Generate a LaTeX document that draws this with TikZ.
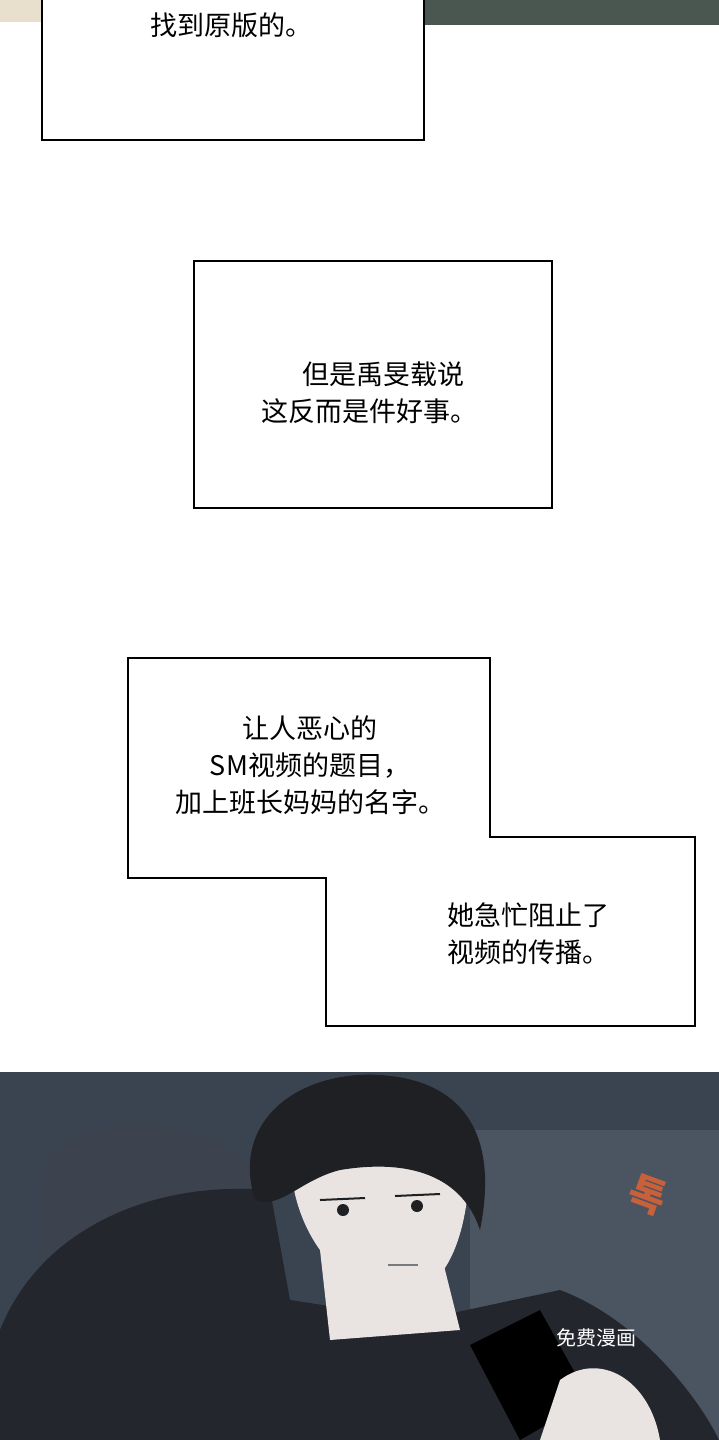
\documentclass[tikz,border=0pt]{standalone}
\usepackage{fontspec}
\newfontfamily\cjk{Noto Sans CJK SC}
\newfontfamily\kor{Noto Sans CJK KR}
\usetikzlibrary{positioning}
\definecolor{panelbg}{HTML}{3A4450}
\definecolor{topdark}{HTML}{4A5650}
\definecolor{topbeige}{HTML}{E8E0CC}
\definecolor{skin}{HTML}{E9E4E2}
\definecolor{hair}{HTML}{1E2024}
\definecolor{shirt}{HTML}{23262C}
\definecolor{sofa}{HTML}{4B5461}
\definecolor{sfx}{HTML}{C8603A}
\tikzset{
  narbox/.style={draw=black, line width=2pt, fill=white},
  captext/.style={font=\cjk\fontsize{27}{37}\selectfont, align=left, inner sep=0pt},
}
\begin{document}
\begin{tikzpicture}[x=1pt,y=-1pt]
\useasboundingbox (0,0) rectangle (719,1440);
\fill[white] (0,0) rectangle (719,1440);
% top panel remains
\fill[topbeige] (0,0) rectangle (42,22);
\fill[topdark] (424,0) rectangle (719,25);
\draw[narbox] (42,-5) rectangle (424,140);
\node[captext] (t0) at (231,25) {找到原版的。};

% second box
\draw[narbox] (194,261) rectangle (552,508);
\node[captext, align=center] (t1) at (369,393) {\hspace{1.1em}但是禹旻载说\\这反而是件好事。};

% third box
\draw[narbox] (128,658) -- (490,658) -- (490,837) -- (695,837) -- (695,1026)
  -- (326,1026) -- (326,878) -- (128,878) -- cycle;
\node[captext, align=center] (t2) at (310,765) {让人恶心的\\SM视频的题目，\\加上班长妈妈的名字。};
\node[captext] (t3) at (528,934) {她急忙阻止了\\视频的传播。};

% bottom panel
\begin{scope}
\clip (0,1072) rectangle (719,1440);
\fill[panelbg] (0,1072) rectangle (719,1440);
\fill[sofa] (470,1130) rectangle (719,1440);
\fill[sofa!80!black] (40,1180) .. controls (60,1100) and (220,1110) .. (260,1180) -- (260,1440) -- (40,1440) -- cycle;
% body
\fill[shirt] (0,1330) .. controls (40,1230) and (150,1180) .. (270,1190)
  -- (290,1300) -- (420,1320) -- (560,1290) .. controls (640,1320) and (700,1400) .. (719,1440) -- (0,1440) -- cycle;
% neck and face
\fill[skin] (320,1250) -- (440,1250) -- (460,1330) -- (330,1340) -- cycle;
\fill[skin] (290,1150) .. controls (290,1250) and (360,1300) .. (400,1300)
  .. controls (450,1290) and (470,1230) .. (470,1150) -- cycle;
% hair
\fill[hair] (255,1200) .. controls (230,1120) and (300,1070) .. (380,1075)
  .. controls (460,1080) and (500,1130) .. (480,1230)
  .. controls (460,1170) and (400,1160) .. (340,1170)
  .. controls (300,1180) and (280,1210) .. (255,1200) -- cycle;
% eyes and mouth
\draw[hair, line width=2pt] (320,1200) -- (365,1198) (395,1196) -- (440,1194);
\fill[hair] (343,1210) circle (6) (417,1206) circle (6);
\draw[hair!60, line width=1.5pt] (388,1265) -- (418,1265);
% phone and hand
\fill[black] (470,1345) -- (540,1310) -- (590,1400) -- (520,1440) -- cycle;
\fill[skin] (560,1380) .. controls (600,1350) and (650,1380) .. (660,1440) -- (540,1440) -- cycle;
% sound effect
\node[font=\kor\bfseries\fontsize{40}{40}\selectfont, text=sfx, rotate=-20] (fx) at (648,1195) {톡};
\node[font=\cjk\fontsize{20}{22}\selectfont, text=white!75] (wm) at (596,1338) {免费漫画};
\end{scope}
\end{tikzpicture}
\end{document}
